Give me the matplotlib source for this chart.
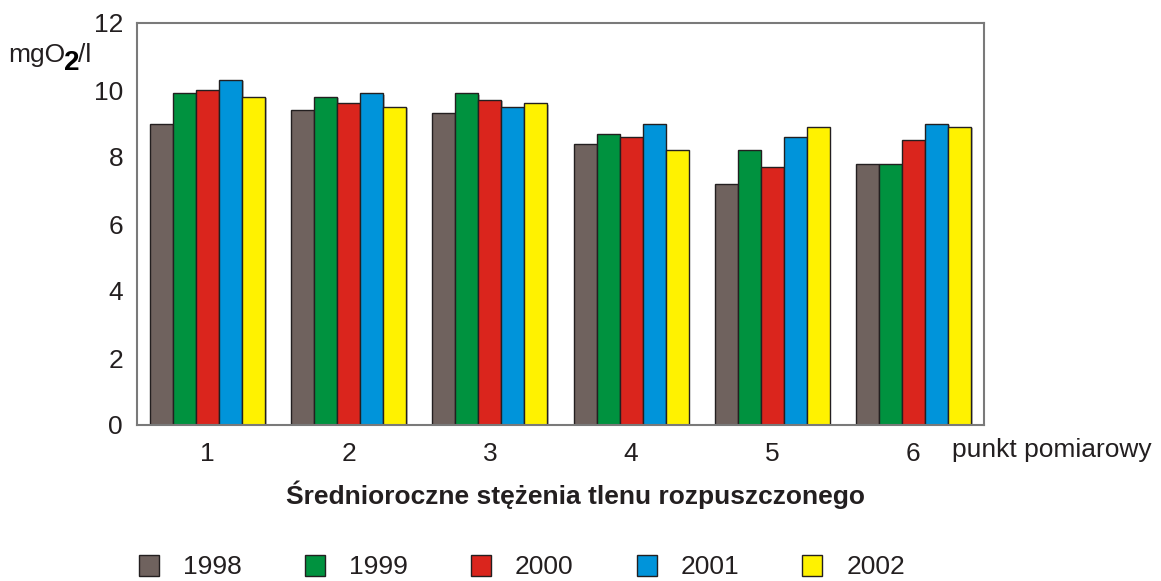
import matplotlib
matplotlib.use("Agg")
import matplotlib.pyplot as plt
from matplotlib.patches import Patch
import numpy as np

plt.rcParams['font.family'] = ['Liberation Sans', 'DejaVu Sans']

categories = ['1', '2', '3', '4', '5', '6']
years = ['1998', '1999', '2000', '2001', '2002']
values = {
    '1998': [9.0, 9.4, 9.3, 8.4, 7.2, 7.8],
    '1999': [9.9, 9.8, 9.9, 8.7, 8.2, 7.8],
    '2000': [10.0, 9.6, 9.7, 8.6, 7.7, 8.5],
    '2001': [10.3, 9.9, 9.5, 9.0, 8.6, 9.0],
    '2002': [9.8, 9.5, 9.6, 8.2, 8.9, 8.9],
}
colors = ['#6f625e', '#00923f', '#da251d', '#0094da', '#fff200']
yticks = [0, 2, 4, 6, 8, 10, 12]

FS = 19
fig = plt.figure(figsize=(11.61, 5.81), dpi=100)
ax = fig.add_axes([137/1161, 1-425/581, (984-137)/1161, (425-23)/581])

x = np.arange(len(categories))
w = 0.163
for i, (yr, c) in enumerate(zip(years, colors)):
    # subtle shadow
    ax.bar(x + (i-2)*w + 0.012, values[yr], width=w, bottom=-0.04, color='#bdbdbd',
           edgecolor='none', zorder=1)
    ax.bar(x + (i-2)*w, values[yr], width=w, color=c, edgecolor='#231f20',
           linewidth=1.0, zorder=2)

ax.set_xlim(-0.5, 5.5)
ax.set_ylim(0, 12)
ax.set_yticks(yticks)
ax.set_xticks(x)
ax.set_xticklabels(categories)
ax.tick_params(length=0, labelsize=FS, colors='#231f20')
ax.tick_params(axis='y', pad=10)
ax.tick_params(axis='x', pad=12)
for s in ax.spines.values():
    s.set_color('#7a7a7a')
    s.set_linewidth(1.5)

fig.text(8/1161, 1-55/581, 'mgO', fontsize=FS, va='center', ha='left', color='#231f20')
fig.text(64/1161, 1-63/581, '2', fontsize=FS+1, fontweight='bold', va='center', ha='left', color='#000000')
fig.text(78/1161, 1-55/581, '/l', fontsize=FS, va='center', ha='left', color='#231f20')

fig.text(952/1161, 1-450/581, 'punkt pomiarowy', fontsize=FS, va='center', ha='left', color='#231f20')
fig.text(575/1161, 1-495/581, 'Średnioroczne stężenia tlenu rozpuszczonego', fontsize=FS,
         fontweight='bold', va='center', ha='center', color='#231f20')

handles = [Patch(facecolor=c, edgecolor='#231f20', linewidth=1.0) for c in colors]
fig.legend(handles, years, loc='center', bbox_to_anchor=(522/1161, 1-567/581), ncol=5,
           frameon=False, fontsize=FS, handlelength=0.76, handleheight=0.85,
           handletextpad=0.9, columnspacing=2.4, labelcolor='#231f20')

fig.savefig('out.png', dpi=100)
